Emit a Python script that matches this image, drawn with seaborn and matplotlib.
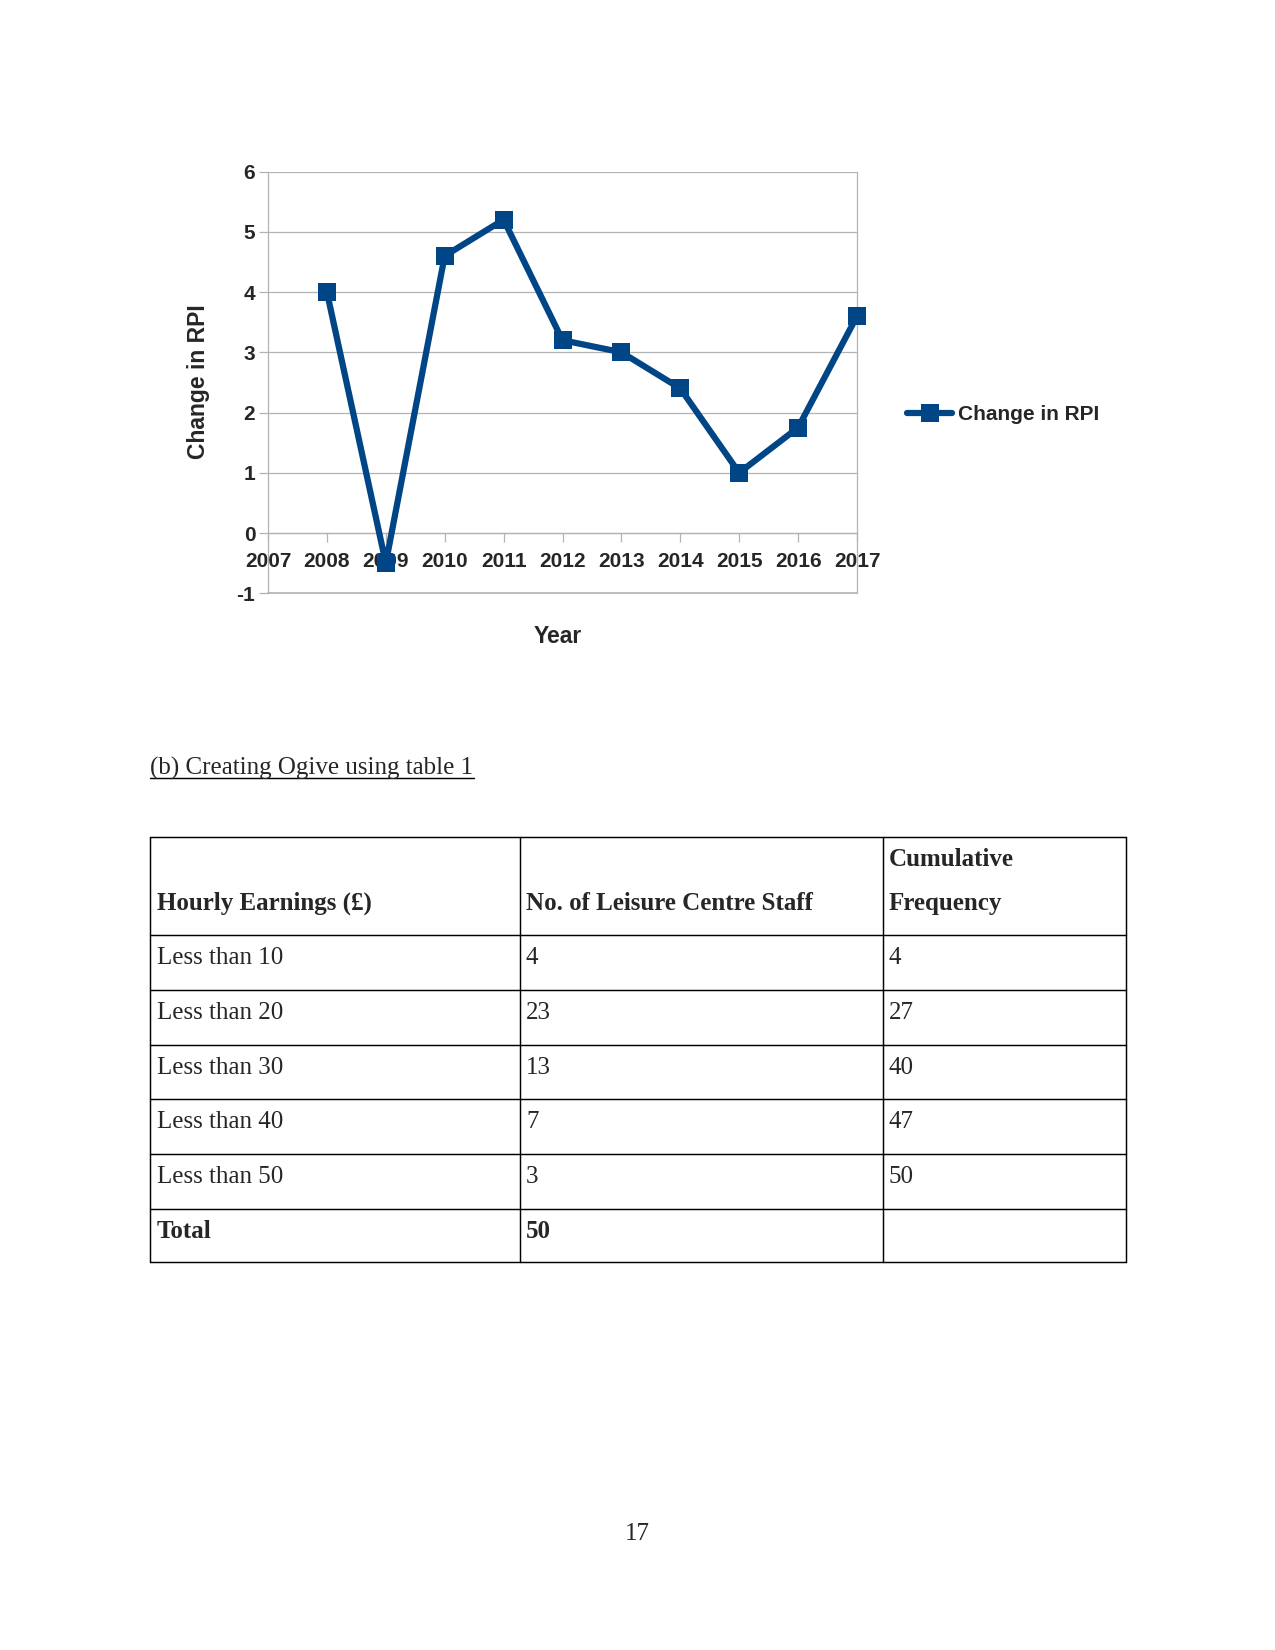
import matplotlib
matplotlib.use("Agg")
import matplotlib.pyplot as plt
import seaborn as sns

# ---- data ----
years = [2008, 2009, 2010, 2011, 2012, 2013, 2014, 2015, 2016, 2017]
rpi = [4.0, -0.5, 4.6, 5.2, 3.2, 3.0, 2.4, 1.0, 1.75, 3.6]
year_ticks = list(range(2007, 2018))
y_ticks = [-1, 0, 1, 2, 3, 4, 5, 6]
series_name = "Change in RPI"

section_title = "(b) Creating Ogive using table 1"
headers = ["Hourly Earnings (£)", "No. of Leisure Centre Staff", "Cumulative\nFrequency"]
earnings = ["Less than 10", "Less than 20", "Less than 30", "Less than 40", "Less than 50"]
staff = [4, 23, 13, 7, 3]
cumulative = [4, 27, 40, 47, 50]
total_label = "Total"
total_value = 50
page_number = "17"

sns.set_style("white")
plt.rcParams['font.family'] = ['Liberation Sans', 'DejaVu Sans']

W, H = 1275, 1650
fig = plt.figure(figsize=(8.5, 11), dpi=150)

# ---- chart ----
L, R, T, B = 268, 857, 171.5, 593.3
ax = fig.add_axes([L / W, 1 - B / H, (R - L) / W, (B - T) / H])
blue = '#004586'
grey = '#b3b3b3'
sns.lineplot(x=years, y=rpi, ax=ax, color=blue, linewidth=3.0, marker='s',
             markersize=8.5, markeredgewidth=0, zorder=5, clip_on=False,
             label=series_name)
ax.set_xlim(2007, 2017)
ax.set_ylim(-1, 6)
ax.set_xticks(year_ticks)
ax.set_yticks(y_ticks)
ax.set_xticklabels([str(y) for y in year_ticks])
ax.set_yticklabels([str(v) for v in y_ticks])
ax.grid(axis='y', color=grey, linewidth=0.6)
ax.grid(axis='x', visible=False)
ax.axhline(-1, color=grey, linewidth=0.8, clip_on=False, zorder=1)
ax.spines['top'].set_visible(False)
for s in ['left', 'right']:
    ax.spines[s].set_color(grey)
    ax.spines[s].set_linewidth(0.6)
ax.spines['bottom'].set_position(('data', 0))
ax.spines['bottom'].set_color(grey)
ax.spines['bottom'].set_linewidth(0.6)
ax.tick_params(axis='x', direction='out', length=4.5, width=0.6, color=grey, pad=4.5,
               bottom=True, labelsize=10)
ax.tick_params(axis='y', direction='out', length=4.5, width=0.6, color=grey, pad=1.6,
               left=True, labelsize=10)
for lab in ax.get_xticklabels() + ax.get_yticklabels():
    lab.set_fontweight('bold')
ax.set_xlabel("")
ax.set_ylabel("")
fig.text(198 / W, 1 - 382 / H, "Change in RPI", rotation=90, fontsize=11,
         fontweight='bold', ha='center', va='center')
fig.text(557.5 / W, 1 - 636.4 / H, "Year", fontsize=11, fontweight='bold',
         ha='center', va='center')
leg = ax.legend(loc='center left', bbox_to_anchor=(907 / W, 1 - 414.5 / H),
                bbox_transform=fig.transFigure, frameon=False, borderpad=0,
                borderaxespad=0, handlelength=2.16, handletextpad=0.3,
                prop={'weight': 'bold', 'size': 10})

# ---- page overlay ----
ov = fig.add_axes([0, 0, 1, 1], zorder=-1)
ov.set_xlim(0, W)
ov.set_ylim(H, 0)
ov.axis('off')
serif = ['Liberation Serif', 'DejaVu Serif']
dy = 3

t = ov.text(150.4, 766 + 2, section_title, fontsize=12, family=serif, ha='left', va='center')
fig.canvas.draw()
bb = t.get_window_extent(renderer=fig.canvas.get_renderer())
x0 = bb.x0 / fig.dpi / 8.5 * W
x1 = bb.x1 / fig.dpi / 8.5 * W
ov.plot([x0, x1], [777.5, 777.5], color='black', linewidth=0.7)

# table lines
tx0, tx1 = 150.4, 1125.6
cols = [150.4, 519.7, 882.6, 1125.6]
rows = [837.4, 935.2, 989.9, 1044.6, 1099.3, 1154.0, 1208.7, 1262.4]
for y in rows:
    ov.plot([tx0, tx1], [y, y], color='black', linewidth=0.7)
for x in cols:
    ov.plot([x, x], [rows[0], rows[-1]], color='black', linewidth=0.7)

pad = 6.3
ov.text(cols[0] + pad, 900.5 + dy, headers[0], fontsize=12, family=serif, fontweight='bold', va='center')
ov.text(cols[1] + pad, 900.5 + dy, headers[1], fontsize=12, family=serif, fontweight='bold', va='center')
h3a, h3b = headers[2].split("\n")
ov.text(cols[2] + pad, 857 + dy, h3a, fontsize=12, family=serif, fontweight='bold', va='center')
ov.text(cols[2] + pad, 900.5 + dy, h3b, fontsize=12, family=serif, fontweight='bold', va='center')

row_y = [955.2, 1009.9, 1064.6, 1119.3, 1174.0]
for y, e, s, c in zip(row_y, earnings, staff, cumulative):
    ov.text(cols[0] + pad, y + dy, e, fontsize=12, family=serif, va='center')
    ov.text(cols[1] + pad, y + dy, str(s), fontsize=12, family=serif, va='center')
    ov.text(cols[2] + pad, y + dy, str(c), fontsize=12, family=serif, va='center')
ov.text(cols[0] + pad, 1228.7 + dy, total_label, fontsize=12, family=serif, fontweight='bold', va='center')
ov.text(cols[1] + pad, 1228.7 + dy, str(total_value), fontsize=12, family=serif, fontweight='bold', va='center')

ov.text(637.5, 1530.6 + dy, page_number, fontsize=12, family=serif, ha='center', va='center')

fig.savefig("out.png", dpi=150)
